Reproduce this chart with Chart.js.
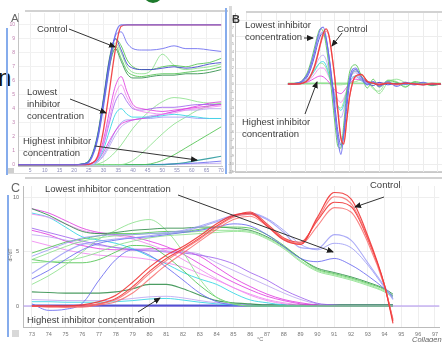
<!DOCTYPE html>
<html>
<head>
<meta charset="utf-8">
<script src="https://cdn.jsdelivr.net/npm/chart.js@4/dist/chart.umd.min.js"></script>
<style>
  html, body { margin: 0; padding: 0; background: #fff; }
  body { position: relative; width: 442px; height: 342px; overflow: hidden; font-family: "Liberation Sans", Arial, sans-serif; }
  canvas { position: absolute; }
  .txt { position: absolute; color: #404040; font-size: 9.5px; line-height: 12px; white-space: nowrap; }
  .panel { position: absolute; color: #666; font-size: 12px; line-height: 14px; }
  .bar { position: absolute; }
  #overlay { position: absolute; left: 0; top: 0; }
</style>
</head>
<body>

<!-- frame decorations -->
<div class="bar" style="left:143px;top:-17px;width:20px;height:20px;border-radius:50%;background:#1d7a2c"></div>
<div class="txt" style="left:-2px;top:66px;font-size:24px;line-height:24px;color:#111">n</div>
<div class="bar" style="left:25px;top:10px;width:203px;height:2px;background:#d2d2d2"></div>
<div class="bar" style="left:6px;top:28px;width:2px;height:147px;background:#86acec"></div>
<div class="bar" style="left:8px;top:173px;width:216px;height:1px;background:#dcdcdc"></div>
<div class="bar" style="left:8px;top:168px;width:6px;height:5px;background:#cfcfcf"></div>
<div class="bar" style="left:225px;top:8px;width:2px;height:166px;background:#86acec"></div>
<div class="bar" style="left:229px;top:6px;width:3px;height:168px;background:#dadada"></div>
<div class="bar" style="left:246px;top:11px;width:196px;height:2px;background:#d2d2d2"></div>
<div class="bar" style="left:232px;top:171px;width:210px;height:1px;background:#cfcfcf"></div>
<div class="bar" style="left:25px;top:177px;width:417px;height:2px;background:#d2d2d2"></div>
<div class="bar" style="left:7px;top:195px;width:2px;height:142px;background:#86acec"></div>
<div class="bar" style="left:12px;top:330px;width:7px;height:7px;background:#d8d8d8"></div>

<canvas id="chartA" width="226" height="178" style="left:0;top:0"></canvas>
<canvas id="chartB" width="216" height="178" style="left:226px;top:0"></canvas>
<canvas id="chartC" width="442" height="164" style="left:0;top:178px"></canvas>

<!-- panel letters and annotations -->
<div class="panel" style="left:11px;top:11px;font-size:11.5px">A</div>
<div class="panel" style="left:232px;top:12px;font-size:11px;font-weight:bold;color:#333">B</div>
<div class="panel" style="left:11px;top:181px;font-size:12.5px">C</div>

<div class="txt" style="left:37px;top:23px">Control</div>
<div class="txt" style="left:27px;top:86px">Lowest<br>inhibitor<br>concentration</div>
<div class="txt" style="left:23px;top:135px">Highest inhibitor<br>concentration</div>

<div class="txt" style="left:245px;top:19px">Lowest inhibitor<br>concentration</div>
<div class="txt" style="left:337px;top:23px">Control</div>
<div class="txt" style="left:242px;top:116px">Highest inhibitor<br>concentration</div>

<div class="txt" style="left:45px;top:183px">Lowest inhibitor concentration</div>
<div class="txt" style="left:370px;top:179px">Control</div>
<div class="txt" style="left:27px;top:314px">Highest inhibitor concentration</div>

<div class="txt" style="left:3px;top:252px;font-size:5px;line-height:6px;color:#777;transform:rotate(-90deg)">dF/dT</div>
<div class="txt" style="left:257px;top:336px;font-size:5.5px;line-height:7px;color:#777">°C</div>
<div class="txt" style="left:412px;top:335px;font-size:7.5px;line-height:9px;color:#666;font-style:italic">Collagen</div>

<svg id="overlay" width="442" height="342">
  <defs>
    <marker id="head" markerWidth="7" markerHeight="6" refX="6" refY="3" orient="auto" markerUnits="userSpaceOnUse">
      <path d="M0,0 L7,3 L0,6 Z" fill="#1e1e1e"/>
    </marker>
  </defs>
  <g stroke="#333" stroke-width="1" fill="none" marker-end="url(#head)">
    <line x1="69" y1="29" x2="115" y2="47"/>
    <line x1="70" y1="99" x2="106" y2="113"/>
    <line x1="95" y1="146" x2="197" y2="160"/>
    <line x1="304" y1="38" x2="313" y2="38"/>
    <line x1="342" y1="33" x2="332" y2="46"/>
    <line x1="305" y1="114" x2="317" y2="82"/>
    <line x1="178" y1="195" x2="333" y2="252"/>
    <line x1="384" y1="197" x2="355" y2="207"/>
    <line x1="138" y1="312" x2="160" y2="298"/>
  </g>
</svg>

<script>
// ---------- Panel A: amplification curves (fluorescence vs cycle) ----------
const cyclesA = [1, 10, 20, 24, 26, 28, 30, 32, 34, 36, 38, 40, 43, 46, 50, 54, 58, 62, 66, 70];
const aControlBlue  = [0,0,0,0.05,0.5,1.8,4.2,7.0,9.3,10,10,10,10,10,10,10,10,10,10,10];
const aControlRed   = [0,0,0,0,0.1,0.6,2.5,5.3,8.2,9.9,10,10,10,10,10,10,10,10,10,10];
const aControlBlue2 = [0,0,0,0.05,0.6,2.0,4.5,7.3,9.2,9.5,8.7,8.3,8.2,8.2,8.3,8.5,8.3,8.3,8.2,8.1];
const aControlGreen1 = [0,0,0,0.1,0.7,2.2,4.8,7.6,9.0,8.5,7.5,7.0,6.8,6.8,7.0,7.1,7.0,7.2,7.3,7.6];
const aControlGreen2 = [0,0,0,0.1,0.6,2.0,4.5,7.2,8.7,8.0,7.0,6.6,6.5,6.7,7.9,7.1,6.8,6.9,7.0,7.2];
const aControlGreen3 = [0,0,0,0.1,0.6,2.0,4.6,7.3,8.5,7.6,6.7,6.4,6.3,6.4,6.5,6.5,6.6,6.7,6.8,7.0];
const aControlGreen4 = [0,0,0,0.1,0.6,1.9,4.4,7.0,8.3,7.4,6.5,6.2,6.2,6.3,6.4,6.4,6.5,6.5,6.6,6.8];
const aControlNavy  = [0,0,0,0.1,0.6,2.1,4.7,7.5,9.0,8.2,7.2,6.9,6.8,6.8,6.9,7.0,6.9,7.0,7.2,7.3];
const aLowMagenta1  = [0,0,0,0,0.1,0.5,1.8,3.8,5.6,6.3,5.2,4.3,4.0,3.9,3.8,3.9,4.0,4.1,4.2,4.3];
const aLowMagenta2  = [0,0,0,0,0.1,0.4,1.5,3.3,5.0,5.7,4.8,4.1,3.8,3.7,3.6,3.7,3.9,4.0,4.1,4.2];
const aLowPurple    = [0,0,0,0,0.1,0.4,1.4,3.0,4.5,5.1,4.5,4.0,3.9,4.0,4.1,4.1,4.2,4.3,4.3,4.3];
const aLowCyan      = [0,0,0,0,0.1,0.3,1.1,2.4,3.6,4.0,3.6,3.4,3.4,3.4,3.5,3.6,3.5,3.4,3.3,3.3];
const aMidPink      = [0,0,0,0,0.1,0.3,0.9,1.7,2.4,2.9,3.1,3.2,3.3,3.4,3.6,3.8,4.0,4.2,4.4,4.5];
const aMidPurple    = [0,0,0,0,0,0.2,0.6,1.3,2.1,2.7,3.0,3.2,3.3,3.5,3.6,3.8,3.9,3.9,4.0,4.0];
const aMidBlue      = [0,0,0,0,0,0.2,0.7,1.5,2.4,3.0,3.2,3.2,3.3,3.3,3.4,3.4,3.4,3.3,3.3,3.3];
const aLateGreen1   = [0,0,0,0,0,0.05,0.2,0.5,0.9,1.4,2.0,2.6,3.3,3.9,4.5,4.8,4.7,4.5,4.4,4.4];
const aLateGreen2   = [0,0,0,0,0,0,0,0,0,0,0.1,0.3,0.8,1.4,2.2,2.9,3.4,3.9,4.2,4.4];
const aLateGreen3   = [0,0,0,0,0,0,0,0,0,0,0,0,0,0.05,0.3,0.7,1.2,1.7,2.2,2.7];
const aHighTeal     = [0,0,0,0,0,0,0,0,0,0,0,0,0,0,0,0.05,0.15,0.3,0.45,0.6];
const aHighBlue     = [0,0,0,0,0,0,0,0,0,0,0,0,0,0,0.02,0.05,0.08,0.12,0.18,0.25];
const aHighLavender = [0,0,0,0,0,0,0,0,0,0,0,0,0,0,0,0.02,0.04,0.06,0.08,0.1];

// ---------- Panel B: first-derivative curves vs cycle ----------
const cyclesB = [19, 22, 24, 26, 28, 29, 30, 31, 32, 33, 34, 35, 36, 37, 38, 39, 40, 42, 44, 46, 48, 50, 53, 56, 59, 62, 65, 68, 71];
const bControlRed  = [0,0,0.1,0.6,2.2,3.5,5.0,6.3,6.9,6.0,3.5,0.5,-3.5,-6.8,-7.5,-4.5,-1.5,1.0,1.2,0.3,0.1,-0.1,0.1,0,0.1,0,-0.1,0,0];
const bControlRed2 = [0,0,0.1,0.5,2.0,3.3,4.8,6.0,6.6,5.9,3.6,0.7,-3.2,-6.5,-7.3,-4.6,-1.6,0.9,1.1,0.4,0.1,0,0.1,-0.1,0.1,0,0,0.1,0];
const bLowBlue1    = [0,0.1,0.4,1.5,4.0,5.6,6.8,7.1,5.8,3.2,0,-3.8,-7.0,-8.8,-6.2,-2.0,0.8,2.0,0.8,-0.1,0.3,-0.3,0.3,-0.3,0.2,-0.1,0.2,-0.1,0];
const bLowGreen1   = [0,0.1,0.5,1.8,4.5,6.0,6.9,6.6,4.8,2.0,-1.5,-5.0,-7.8,-8.0,-5.0,-1.0,1.5,2.4,1.0,-0.5,0.6,-0.4,0.4,0.2,-0.4,0.3,0.1,-0.2,0];
const bLowBlue2    = [0,0.1,0.4,1.4,3.8,5.3,6.3,6.5,5.5,3.0,-0.2,-3.5,-6.5,-7.8,-5.8,-2.2,0.6,1.6,0.5,0.1,0.2,-0.2,0.1,-0.1,0.2,0,-0.1,0.1,0];
const bLowNavy     = [0,0.1,0.3,1.2,3.4,4.9,6.0,6.4,5.6,3.4,0.5,-2.8,-6.0,-7.6,-6.3,-3.0,0.2,1.8,0.9,0.2,-0.2,0.2,-0.1,0.1,0,0.1,-0.1,0,0];
const bMidLavender = [0,0,0.2,0.8,2.0,2.8,3.4,3.6,3.0,1.6,0,-1.8,-3.5,-4.2,-3.2,-1.3,0.5,1.4,0.5,0,0.3,-0.2,0.1,-0.1,0.2,0,0,0.1,0];
const bMidCyan     = [0,0,0.1,0.6,1.6,2.2,2.7,2.8,2.3,1.2,-0.2,-1.6,-2.8,-3.3,-2.6,-1.1,0.3,1.0,0.4,0,0.1,-0.1,0.1,0,0,0,0,0,0];
const bMidGreen    = [0,0,0.2,0.7,1.8,2.3,2.6,2.5,2.0,1.0,-0.3,-1.6,-2.7,-3.0,-2.2,-0.8,0.6,1.6,1.2,0.4,-0.6,-0.9,0.5,0.3,-0.3,0.2,0,-0.1,0];
const bMidPink     = [0,0,0.1,0.4,1.2,1.7,2.0,2.0,1.6,0.8,-0.2,-1.2,-2.0,-2.3,-1.8,-0.8,0.2,0.9,0.6,0.2,0.2,0,0.1,0,0.1,0,0,0,0];
const bHighMagenta = [0,0,0.1,0.3,0.7,0.9,1.0,0.9,0.6,0.2,-0.3,-0.8,-1.1,-1.2,-0.9,-0.4,0.1,0.6,0.5,0.3,0.2,0.1,0.1,0,0,0,0,0,0];
const bHighGreen   = [0,0,0,0,0.05,0.1,0.1,0.1,0.1,0.05,0,-0.05,-0.1,-0.1,-0.05,0,0.1,0.3,0.5,0.2,-0.4,-1.2,0.2,0.6,0.2,0.1,0,0,0];
const bHighGreen2  = [0.1,0.1,0.1,0.1,0.1,0.1,0.1,0.1,0.1,0.1,0.1,0.1,0.1,0.1,0.1,0.1,0.1,0.1,0.1,0.1,0.1,0.1,0.1,0.1,0.1,0.1,0.1,0.1,0.1];

// ---------- Panel C: melt curves (dF/dT vs temperature) ----------
const tempsC = [73, 74, 75, 76, 77, 78, 79, 80, 81, 82, 83, 84, 85, 86, 87, 88, 89, 90, 91, 92, 93, 94, 94.5];
const cTickTemps = [73, 74, 75, 76, 77, 78, 79, 80, 81, 82, 83, 84, 85, 86, 87, 88, 89, 90, 91, 92, 93, 94, 95, 96, 97];
const cControlRed1 = [0,0,0,0.1,0.4,1.0,2.2,3.6,4.7,5.5,6.5,7.6,8.4,8.6,7.4,6.1,5.7,8.2,10.5,9.9,6.5,1.9,-1.6];
const cControlRed2 = [0,-0.1,-0.1,0,0.2,0.6,1.6,3.0,4.2,5.2,6.2,7.3,8.2,8.5,7.5,6.2,5.8,8.0,10.1,9.5,6.3,1.9,-1.3];
const cControlRed3 = [0,0,-0.1,-0.1,0.1,0.4,1.2,2.5,3.8,4.9,6.0,7.1,8.0,8.3,7.4,6.2,5.7,7.4,9.1,8.7,5.9,1.8,-1.2];
const cControlRed4 = [0,0,0,0,0.2,0.7,1.8,3.2,4.4,5.3,6.3,7.4,8.3,8.7,7.6,6.3,5.9,7.9,9.6,9.2,6.2,1.9,-1.4];
const cLowBlue1 = [3.0,4.0,5.0,5.7,6.0,6.2,6.3,6.5,6.7,6.9,7.3,7.8,8.3,8.5,8.0,6.8,5.4,5.3,6.6,6.1,4.0,1.8,0.6];
const cLowBlue2 = [2.5,3.3,4.3,5.2,5.8,6.1,6.3,6.4,6.6,6.8,7.0,7.3,7.6,7.4,6.6,5.5,4.4,4.1,4.4,3.8,2.8,1.6,0.9];
const cLowNavy  = [4.6,5.2,5.8,6.3,6.5,6.6,6.6,6.7,6.8,7.0,7.4,7.9,8.4,8.6,8.1,7.0,5.7,5.2,5.8,5.4,3.8,1.7,0.7];
const cGreen1 = [4.9,5.4,5.9,6.2,6.5,6.7,6.7,6.8,6.9,6.9,7.1,7.3,7.3,7.2,6.6,5.6,4.4,3.4,3.0,2.6,2.1,1.5,0.9];
const cGreen2 = [4.3,4.9,5.5,6.0,6.3,6.5,6.6,6.7,6.7,6.8,6.9,7.0,7.0,6.9,6.3,5.4,4.2,3.3,2.9,2.5,2.0,1.4,1.0];
const cGreen3 = [9.0,8.4,7.6,6.9,6.7,6.8,7.0,7.1,7.2,7.2,7.3,7.3,7.2,7.0,6.4,5.5,4.4,3.5,3.1,2.7,2.2,1.6,1.1];
const cGreen4 = [4.0,4.1,4.2,4.5,5.0,5.6,6.0,6.3,6.5,6.6,6.7,6.8,6.9,6.8,6.2,5.3,4.1,3.2,2.8,2.4,1.9,1.3,0.8];
const cGreenPeak1 = [2.0,2.8,3.8,5.0,6.2,7.0,7.7,8.0,7.0,5.0,2.5,0.8,0.2,0,0,0,0,0,0,0,0,0,0];
const cGreenPeak2 = [4.3,4.1,4.0,4.0,4.3,5.0,5.6,5.5,4.6,3.3,1.9,0.8,0.2,0,0,0,0,0,0,0,0,0,0];
const cBluePeak = [0.2,-0.4,-0.3,0.25,2.4,4.3,5.2,4.7,3.6,2.4,1.2,0.4,0.1,0,0,0,0,0,0,0,0,0,0];
const cPinkHigh1 = [9.0,8.6,7.9,7.2,6.8,6.6,6.4,6.0,5.5,4.8,3.9,3.0,2.2,1.5,0.9,0.5,0.2,0.05,0,0,0,0,0];
const cPinkHigh2 = [8.5,8.2,7.6,7.0,6.7,6.5,6.2,5.7,5.1,4.3,3.4,2.5,1.7,1.1,0.6,0.3,0.1,0,0,0,0,0,0];
const cCyanHigh = [8.6,8.2,7.3,6.4,6.1,5.8,5.3,4.6,3.9,3.1,2.5,2.0,1.2,0.56,0.3,0.1,0,0,0,0,0,0,0];
const cPurple1 = [7.2,6.8,6.4,6.0,5.7,5.4,5.2,5.1,5.0,4.9,4.7,4.4,3.9,3.1,2.4,1.5,0.8,0.25,0.1,0,0,0,0];
const cPurple2 = [6.6,6.4,6.1,5.8,5.6,5.4,5.3,5.2,5.1,5.0,4.8,4.0,3.3,2.6,1.9,1.2,0.6,0.2,0,0,0,0,0];
const cMagenta = [7.0,6.6,6.0,5.6,5.3,5.2,5.2,5.3,5.3,5.1,4.6,3.6,2.6,1.8,1.1,0.6,0.3,0.1,0,0,0,0,0];
const cPinkMid = [6.0,5.6,5.2,4.9,4.7,4.6,4.5,4.3,4.0,3.6,3.0,2.4,1.7,1.0,0.5,0.2,0,0,0,0,0,0,0];
const cHighGreen = [1.3,1.25,1.2,1.2,1.2,1.3,1.6,2.0,2.0,1.6,1.0,0.5,0.3,0.2,0.1,0.1,0.1,0.1,0.1,0.1,0.1,0.1,0.1];
const cHighLavender = [0.6,0.55,0.5,0.5,0.5,0.55,0.7,0.85,0.9,0.75,0.5,0.3,0.2,0.1,0.1,0.1,0.1,0.1,0.1,0.1,0.1,0.1,0.1];
const cHighCyan = [0.4,0.4,0.35,0.35,0.35,0.4,0.5,0.65,0.7,0.55,0.35,0.2,0.1,0.05,0,0,0,0,0,0,0,0,0];
const cHighBlue = [0.05,0.05,0.05,0.05,0.05,0.05,0.05,0.05,0.05,0.05,0.05,0.05,0.05,0.05,0.05,0.05,0.05,0.05,0.05,0.05,0.05,0.05,0.05];
const baseTemps = [72.5, 97.3];
const cBaseline = [0, 0];

// ---------- colours ----------
const COL = {
  red: 'rgba(240,55,55,0.9)', red2: 'rgba(248,110,110,0.85)',
  blue: 'rgba(105,105,240,0.85)', navy: 'rgba(60,60,205,0.85)', blueLight: 'rgba(150,150,245,0.8)',
  green: 'rgba(80,195,80,0.85)', greenLight: 'rgba(140,225,140,0.85)', greenDark: 'rgba(45,140,70,0.85)',
  magenta: 'rgba(225,60,225,0.85)', pink: 'rgba(240,135,240,0.85)',
  purple: 'rgba(160,100,238,0.85)', lavender: 'rgba(185,160,240,0.8)',
  cyan: 'rgba(60,215,230,0.9)', teal: 'rgba(45,155,160,0.9)'
};

function line(xs, ys, color, width) {
  return {
    data: xs.map((x, i) => ({ x: x, y: ys[i] })),
    borderColor: color, borderWidth: width || 1, pointRadius: 0,
    cubicInterpolationMode: 'monotone', fill: false
  };
}

function makeChart(id, datasets, scales, padding) {
  return new Chart(document.getElementById(id), {
    type: 'line',
    data: { datasets: datasets },
    options: {
      responsive: false, animation: false, events: [],
      layout: { padding: padding },
      plugins: { legend: { display: false }, tooltip: { enabled: false } },
      scales: scales
    }
  });
}

// Panel A (first dataset is drawn on top)
makeChart('chartA', [
  line(cyclesA, aControlBlue, COL.blue, 1.3),
  line(cyclesA, aControlRed, COL.red, 1.3),
  line(cyclesA, aControlBlue2, COL.blue),
  line(cyclesA, aControlNavy, COL.navy),
  line(cyclesA, aControlGreen1, COL.green),
  line(cyclesA, aControlGreen2, COL.greenLight),
  line(cyclesA, aControlGreen3, COL.green),
  line(cyclesA, aControlGreen4, COL.greenDark),
  line(cyclesA, aLowMagenta1, COL.magenta),
  line(cyclesA, aLowMagenta2, COL.pink),
  line(cyclesA, aLowPurple, COL.purple),
  line(cyclesA, aLowCyan, COL.cyan),
  line(cyclesA, aMidPink, COL.magenta),
  line(cyclesA, aMidPurple, COL.lavender),
  line(cyclesA, aMidBlue, COL.blueLight),
  line(cyclesA, aLateGreen1, COL.greenLight),
  line(cyclesA, aLateGreen2, COL.greenLight),
  line(cyclesA, aLateGreen3, COL.green),
  line(cyclesA, aHighTeal, COL.teal, 1.2),
  line(cyclesA, aHighBlue, COL.blue),
  line(cyclesA, aHighLavender, COL.lavender)
], {
  x: { type: 'linear', min: 0.9, max: 70.3,
       afterFit: s => { s.height = 12; },
       ticks: { stepSize: 5, includeBounds: false, autoSkip: false, maxRotation: 0, font: { size: 5 }, color: '#8c8cb8', padding: 2 },
       grid: { color: '#efefef', drawTicks: false }, border: { color: '#c4c4c4' } },
  y: { type: 'linear', min: -0.1, max: 10.85,
       afterFit: s => { s.width = 18; },
       ticks: { stepSize: 1, includeBounds: false, font: { size: 5 }, color: '#c080b0', padding: 3 },
       grid: { color: '#f1f1f1', drawTicks: false }, border: { color: '#c4c4c4' } }
}, { top: 13, right: 4, left: 0, bottom: 0 });

// Panel B
makeChart('chartB', [
  line(cyclesB, bControlRed, COL.red, 1.3),
  line(cyclesB, bControlRed2, COL.red2),
  line(cyclesB, bLowBlue1, COL.blue, 1.2),
  line(cyclesB, bLowGreen1, COL.green),
  line(cyclesB, bLowBlue2, COL.blueLight),
  line(cyclesB, bLowNavy, COL.navy),
  line(cyclesB, bMidLavender, COL.lavender),
  line(cyclesB, bMidCyan, COL.cyan),
  line(cyclesB, bMidGreen, COL.greenLight),
  line(cyclesB, bMidPink, COL.pink),
  line(cyclesB, bHighMagenta, COL.magenta),
  line(cyclesB, bHighGreen, COL.greenLight),
  line(cyclesB, bHighGreen2, COL.greenLight, 1.4)
], {
  x: { type: 'linear', min: 1, max: 71.4,
       afterFit: s => { s.height = 6; },
       ticks: { display: false, stepSize: 5, includeBounds: false },
       grid: { color: '#ececec', drawTicks: false }, border: { color: '#c8c8c8' } },
  y: { type: 'linear', min: -11, max: 8.875,
       afterFit: s => { s.width = 9; },
       ticks: { stepSize: 1, includeBounds: false, font: { size: 4 }, color: '#9a9a9a', padding: 1 },
       grid: { color: c => (c.tick && Math.round(c.tick.value) % 2 === 0) ? '#ededed' : 'rgba(0,0,0,0)', drawTicks: false },
       border: { color: '#c8c8c8' } }
}, { top: 13, right: 0, left: 0, bottom: 0 });

// Panel C
makeChart('chartC', [
  line(tempsC, cControlRed1, COL.red, 1.2),
  line(tempsC, cControlRed2, COL.red2, 1.1),
  line(tempsC, cControlRed3, COL.red2, 1.1),
  line(tempsC, cControlRed4, COL.red, 1.1),
  line(tempsC, cLowBlue1, COL.blueLight, 1.1),
  line(tempsC, cLowBlue2, COL.blue),
  line(tempsC, cLowNavy, COL.blueLight),
  line(tempsC, cGreen1, COL.green),
  line(tempsC, cGreen2, COL.greenLight),
  line(tempsC, cGreen3, COL.greenDark),
  line(tempsC, cGreen4, COL.greenLight),
  line(tempsC, cGreenPeak1, COL.greenLight),
  line(tempsC, cGreenPeak2, COL.green),
  line(tempsC, cBluePeak, COL.blue),
  line(tempsC, cPinkHigh1, COL.magenta),
  line(tempsC, cPinkHigh2, COL.pink),
  line(tempsC, cCyanHigh, COL.cyan),
  line(tempsC, cPurple1, COL.purple),
  line(tempsC, cPurple2, COL.lavender),
  line(tempsC, cMagenta, COL.magenta),
  line(tempsC, cPinkMid, COL.pink),
  line(tempsC, cHighGreen, COL.greenDark, 1.2),
  line(tempsC, cHighLavender, COL.lavender),
  line(tempsC, cHighCyan, COL.cyan),
  line(tempsC, cHighBlue, COL.navy, 1.8),
  line(baseTemps, cBaseline, COL.lavender, 1.5)
], {
  x: { type: 'linear', min: 72.47, max: 97.26,
       afterFit: s => { s.height = 15; },
       afterBuildTicks: s => { s.ticks = cTickTemps.map(v => ({ value: v })); },
       ticks: { autoSkip: false, maxRotation: 0, font: { size: 5.5 }, color: '#777', padding: 4 },
       grid: { color: '#eeeeee', drawTicks: false }, border: { color: '#bbbbbb' } },
  y: { type: 'linear', min: -1.94, max: 11.1,
       afterFit: s => { s.width = 23; },
       ticks: { stepSize: 5, includeBounds: false, font: { size: 5.5 }, color: '#666', padding: 4 },
       grid: { color: '#eeeeee', drawTicks: false }, border: { color: '#bbbbbb' } }
}, { top: 8, right: 0, left: 0, bottom: 0 });
</script>
</body>
</html>
